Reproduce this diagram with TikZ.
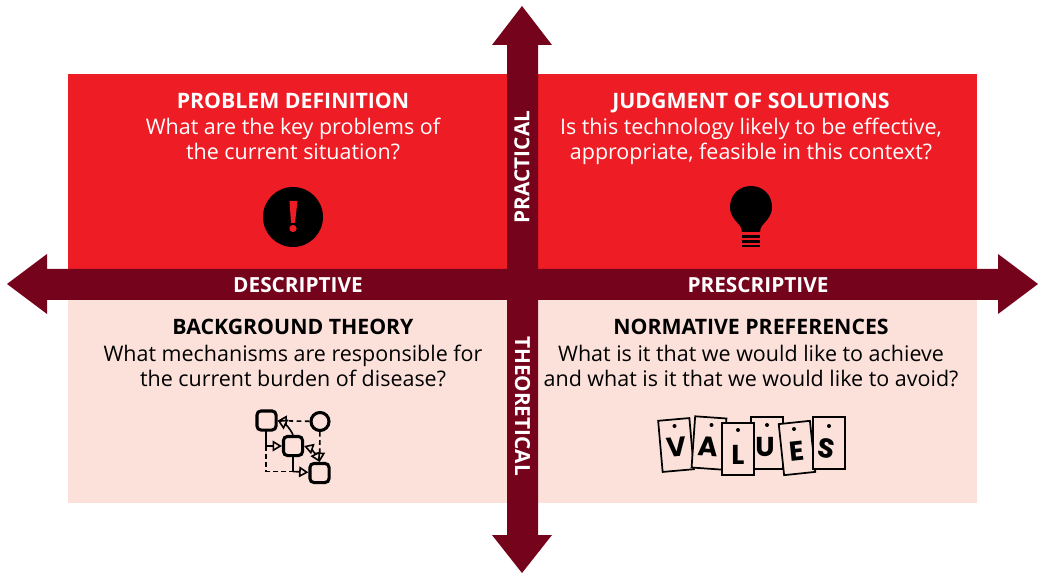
\documentclass[tikz,border=0pt]{standalone}
\usepackage{fontspec}
\setmainfont{Open Sans}
\newfontfamily\valfont{Poppins}
\usetikzlibrary{arrows.meta,calc}
\definecolor{redq}{HTML}{EE1C25}
\definecolor{paleq}{HTML}{FCE1DB}
\definecolor{darkq}{HTML}{75031B}
\tikzset{
  title/.style={font=\fontsize{15.95pt}{18.75pt}\selectfont\bfseries,text=#1,inner sep=0pt,anchor=center},
  bodyt/.style={font=\fontsize{16.1pt}{18.75pt}\selectfont,text=#1,align=center,inner sep=0pt,anchor=center},
  axislabel/.style={font=\fontsize{15.6pt}{18pt}\selectfont\bfseries,text=white,inner sep=0pt},
  netbox/.style={draw=black,line width=2.3pt,rounded corners=3pt,minimum size=14.3pt,inner sep=0pt,fill=paleq},
  netcirc/.style={draw=black,line width=2.3pt,circle,minimum size=13.5pt,inner sep=0pt,fill=paleq},
  net/.style={line width=1.2pt,black},
  netdash/.style={dash pattern=on 3.5pt off 2.6pt},
  nettip/.style={-{Triangle[open,length=7pt,width=8pt,fill=paleq]}},
  card/.style={draw=black,line width=1.3pt,fill=paleq,minimum width=23.5pt,minimum height=38.5pt,inner sep=0pt},
  letterq/.style={text=black,inner sep=0pt,font=\valfont\fontsize{20.5pt}{22pt}\selectfont\bfseries},
  hole/.style={fill=black,circle,inner sep=0pt,minimum size=3pt}
}
\begin{document}
\begin{tikzpicture}[x=0.75pt,y=-0.75pt]
\useasboundingbox (0,0) rectangle (1038,573);
\fill[redq] (68,74) rectangle (977,269);
\fill[paleq] (68,300) rectangle (977,503);
% axes
\fill[darkq] (7,284) -- (47,254) -- (47,269) -- (998,269) -- (998,254) -- (1038,284) -- (998,314) -- (998,300) -- (47,300) -- (47,314) -- cycle;
\fill[darkq] (522,6) -- (552,45) -- (538,45) -- (538,535) -- (552,535) -- (522,573) -- (492,535) -- (507,535) -- (507,45) -- (492,45) -- cycle;
\node[axislabel] (desc) at (298,286.5) {DESCRIPTIVE\vphantom{Q}};
\node[axislabel] (pres) at (758,286.5) {PRESCRIPTIVE\vphantom{Q}};
\node[axislabel,rotate=90] (prac) at (522,167) {PRACTICAL};
\node[axislabel,rotate=-90] (theo) at (522.5,406) {THEORETICAL};
% texts
\node[title=white] (t1) at (293,103.5) {\strut PROBLEM DEFINITION};
\node[bodyt=white] (b1) at (293,142.5) {\strut What are the key problems of\\\strut the current situation?};
\node[title=white] (t2) at (751,103.5) {\strut JUDGMENT OF SOLUTIONS};
\node[bodyt=white] (b2) at (751,142.5) {\strut Is this technology likely to be effective,\\\strut appropriate, feasible in this context?};
\node[title=black] (t3) at (293,329.5) {\strut BACKGROUND THEORY};
\node[bodyt=black] (b3) at (293,368.5) {\strut What mechanisms are responsible for\\\strut the current burden of disease?};
\node[title=black] (t4) at (751,329.5) {\strut NORMATIVE PREFERENCES};
\node[bodyt=black] (b4) at (751,368.5) {\strut What is it that we would like to achieve\\\strut and what is it that we would like to avoid?};
% warning icon
\fill[black] (293,217) circle (30);
\fill[redq] (289.5,201) -- (297.5,201) -- (295,223) -- (291,223) -- cycle;
\fill[redq] (293,228.5) circle (3.6);
% bulb
\fill[black] (742,232) .. controls (742,226) and (738,224) .. (735,220) .. controls (731,215) and (730,211) .. (730,207)
  .. controls (730,195) and (739,186) .. (751,186) .. controls (763,186) and (772,195) .. (772,207)
  .. controls (772,211) and (771,215) .. (767,220) .. controls (764,224) and (760,226) .. (760,232) -- cycle;
\fill[black] (742,235) rectangle (760,238.2);
\fill[black] (742,240) rectangle (760,243);
\fill[black] (742,244.8) rectangle (760,247.5);
% network icon
\coordinate (nk) at (266,446);
\coordinate (nl) at (266,471.5);
\coordinate (nm) at (293,471.5);
\draw[net,netdash] (nk) -- (nl) -- (nm);
\draw[net] (266,425) -- (nk);
\draw[net] (293,450) -- (nm);
\node[netbox] (na) at (266.5,420.5) {};
\node[netbox] (nb) at (293,446) {};
\node[netcirc] (nc) at (320,421.5) {};
\node[netbox] (nd) at (319.5,473) {};
\draw[net,netdash,nettip] (nc) -- (na);
\draw[net,netdash,nettip] (nc) -- (nd);
\draw[net,nettip] (nk) -- (nb);
\draw[net,nettip] (nm) -- (nd);
\draw[net,nettip] (nb.north) .. controls (292,432) and (287,425) .. (na.east);
\draw[net,{Triangle[open,length=7pt,width=8pt,fill=paleq]}-{Triangle[open,length=7pt,width=8pt,fill=paleq]}] (nb.east) .. controls (310,448) and (316,455) .. (nd.north);
% values cards
\node[card,rotate=5] (c1) at (676,445) {};
\node[card,rotate=-4] (c2) at (709,443) {};
\node[letterq,rotate=5] (l1) at (677,447) {V};
\node[letterq,rotate=-4] (l2) at (708,447) {A};
\node[card] (c4) at (767,443) {};
\node[letterq] (l4) at (765,447) {U};
\node[card] (c3) at (738,449) {};
\node[letterq] (l3) at (738,455) {L};
\node[card,rotate=6] (c5) at (797,448) {};
\node[letterq,rotate=6] (l5) at (797,451) {E};
\node[card] (c6) at (829,443) {};
\node[letterq,rotate=-10] (l6) at (826,448) {S};
\node[hole] (h1) at (674.5,426) {};
\node[hole] (h2) at (711.5,425) {};
\node[hole] (h3) at (738,430) {};
\node[hole] (h4) at (767,425) {};
\node[hole] (h5) at (794,429) {};
\node[hole] (h6) at (829,426) {};
\end{tikzpicture}
\end{document}
